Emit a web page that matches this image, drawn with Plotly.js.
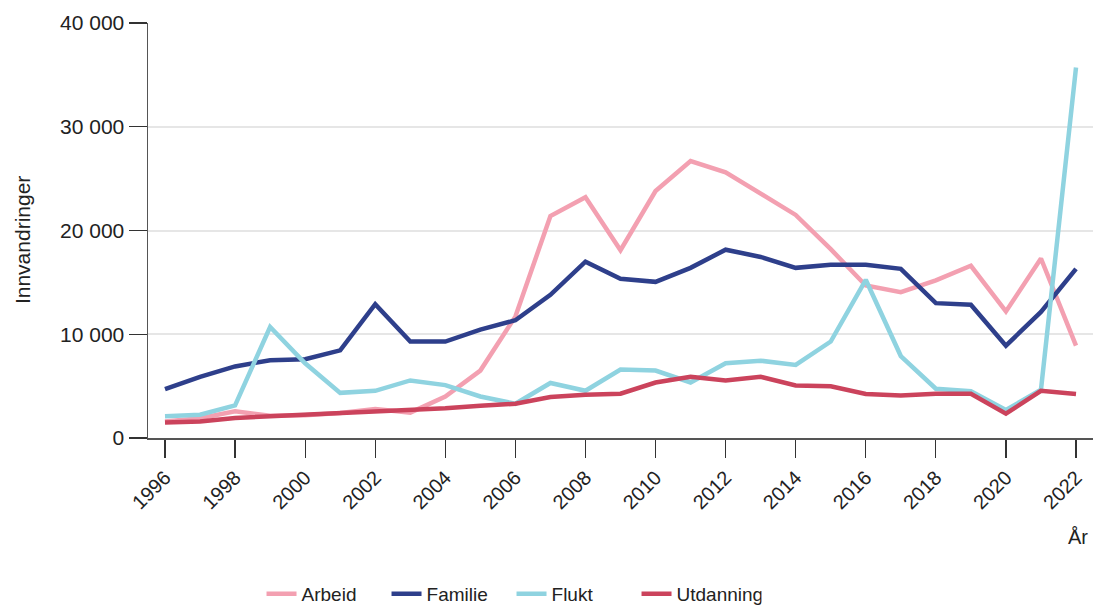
<!DOCTYPE html>
<html>
<head>
<meta charset="utf-8">
<script src="https://cdn.plot.ly/plotly-3.0.1.min.js"></script>
<style>html,body{margin:0;padding:0;background:#fff;}#chart{width:1093px;height:606px;}</style>
</head>
<body>
<div id="chart"></div>
<script>
const years = [1996,1997,1998,1999,2000,2001,2002,2003,2004,2005,2006,2007,2008,2009,2010,2011,2012,2013,2014,2015,2016,2017,2018,2019,2020,2021,2022];
const arbeid = [1600,1900,2570,2150,2200,2400,2800,2450,4000,6500,11700,21400,23200,18100,23800,26700,25600,23600,21500,18200,14700,14050,15200,16600,12200,17300,8900];
const familie = [4700,5900,6900,7500,7600,8450,12900,9300,9300,10450,11350,13800,17000,15350,15050,16400,18150,17450,16400,16700,16700,16300,13000,12850,8900,12150,16300];
const flukt = [2100,2250,3150,10700,7200,4350,4550,5550,5100,4000,3300,5300,4550,6600,6500,5350,7200,7450,7050,9300,15250,7900,4750,4500,2700,4650,35700];
const utdanning = [1500,1600,1930,2080,2180,2340,2570,2730,2860,3100,3300,3950,4170,4270,5350,5900,5550,5900,5070,4980,4240,4100,4270,4270,2340,4550,4240];

const seriesNames = ['Arbeid','Familie','Flukt','Utdanning'];
const seriesData = [arbeid, familie, flukt, utdanning];
const seriesColors = ['#f3a0b1','#2e3f8b','#8fd3e0','#cb435c'];

const xTickVals = [1996,1998,2000,2002,2004,2006,2008,2010,2012,2014,2016,2018,2020,2022];
const yTickVals = [0,10000,20000,30000,40000];
const yTickText = ['0','10 000','20 000','30 000','40 000'];

const traces = seriesNames.map((n,i)=>({
  x: years, y: seriesData[i], name: n, type:'scatter', mode:'lines',
  line:{color:seriesColors[i], width:4.5}
}));

const fam = '"Liberation Sans", Arial, sans-serif';
const font = {family:fam, size:20, color:'#222'};
const yfont = {family:fam, size:21, color:'#222'};
const legfont = {family:fam, size:19, color:'#222'};

const layout = {
  width:1093, height:606,
  margin:{l:148, r:0, t:23, b:168},
  paper_bgcolor:'#fff', plot_bgcolor:'#fff',
  font: font,
  showlegend:true,
  legend:{orientation:'h', xref:'container', x:0.468, xanchor:'center',
          yref:'container', y:0.02, yanchor:'middle', font:legfont,
          entrywidth:80, entrywidthmode:'pixels'},
  xaxis:{
    range:[1995.515, 2022.485],
    tickvals:xTickVals, ticktext:xTickVals.map(String),
    tickangle:-45, ticks:'outside', ticklen:18, tickwidth:1.2, tickcolor:'#333',
    showline:true, linecolor:'#555', linewidth:2,
    showgrid:false, zeroline:false, tickfont:font
  },
  yaxis:{
    range:[0,40000],
    tickvals:yTickVals, ticktext:yTickText,
    ticks:'outside', ticklen:18, tickwidth:1.2, tickcolor:'#333',
    showline:true, linecolor:'#555', linewidth:1.5,
    showgrid:true, gridcolor:'#e6e6e6', gridwidth:2, zeroline:false, tickfont:yfont
  },
  annotations:[
    {text:'År', xref:'paper', yref:'paper', x:1, xanchor:'right', xshift:-3, y:-0.2386, yanchor:'middle', showarrow:false, font:font},
    {text:'Innvandringer', xref:'paper', yref:'paper', x:-0.1333, xanchor:'center', y:0.477, yanchor:'middle', textangle:-90, showarrow:false, font:yfont}
  ]
};

Plotly.newPlot('chart', traces, layout, {displayModeBar:false, staticPlot:true});
</script>
</body>
</html>
